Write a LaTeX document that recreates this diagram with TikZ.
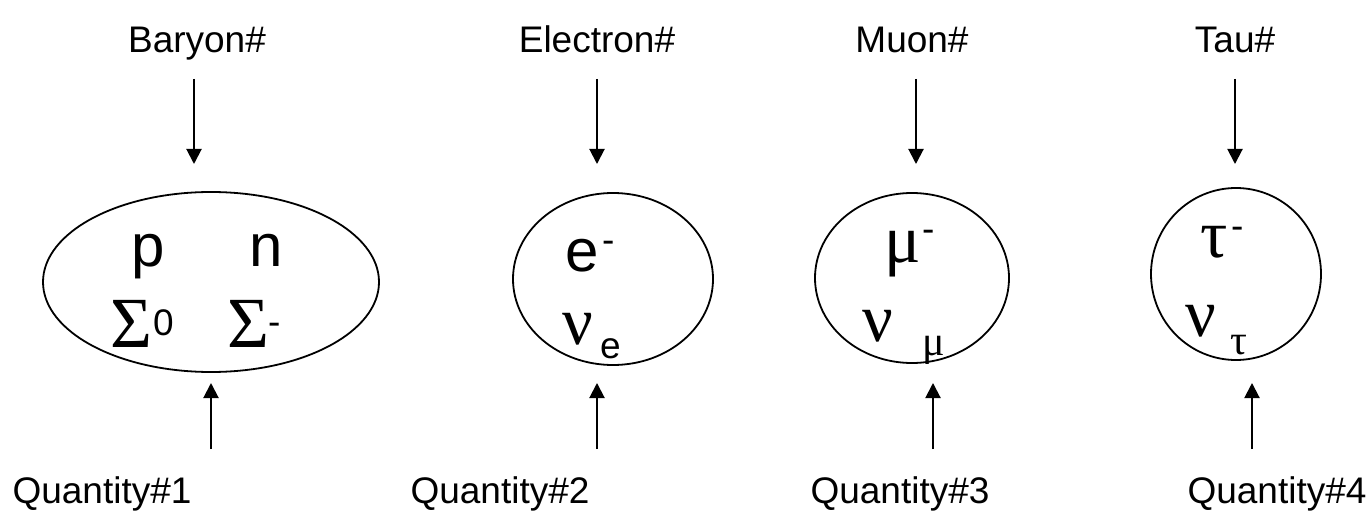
\documentclass[tikz,border=0pt]{standalone}
\usepackage{fontspec}
\setmainfont{Liberation Sans}
\newfontfamily\grk{Liberation Serif}
\usetikzlibrary{shapes.geometric,arrows.meta}
\begin{document}
\begin{tikzpicture}[x=1pt,y=-1pt,
  lbl/.style={font=\fontsize{37}{40}\selectfont, inner sep=0pt, anchor=base},
  big/.style={font=\fontsize{60}{64}\selectfont, inner sep=0pt, anchor=base},
  gk/.style={font=\grk\fontsize{68}{70}\selectfont, inner sep=0pt, anchor=base west},
  sig/.style={font=\grk\fontsize{72}{74}\selectfont, inner sep=0pt, anchor=base west},
  sup/.style={font=\fontsize{37}{40}\selectfont, inner sep=0pt, anchor=base west},
  gsub/.style={font=\grk\fontsize{42}{44}\selectfont, inner sep=0pt, anchor=base west},
  ell/.style={draw, ellipse, line width=1.8pt, inner sep=0pt},
  arr/.style={-{Triangle[length=15pt,width=15pt]}, line width=2pt}]
\useasboundingbox (0,0) rectangle (1371,513);

% ellipses
\node[ell, minimum width=336pt, minimum height=180pt] (e1) at (211,282) {};
\node[ell, minimum width=200pt, minimum height=172pt] (e2) at (613,279) {};
\node[ell, minimum width=194pt, minimum height=170pt] (e3) at (912,278) {};
\node[ell, minimum width=170pt, minimum height=172pt] (e4) at (1236,274) {};

% top labels
\node[lbl] (b) at (197,53) {Baryon\#};
\node[lbl] (el) at (597,53) {Electron\#};
\node[lbl] (mu) at (912,53) {Muon\#};
\node[lbl] (ta) at (1235,53) {Tau\#};

% bottom labels
\node[lbl] (q1) at (102,503) {Quantity\#1};
\node[lbl] (q2) at (500,503) {Quantity\#2};
\node[lbl] (q3) at (900,503) {Quantity\#3};
\node[lbl] (q4) at (1277,503) {Quantity\#4};

% arrow end points
\coordinate (t1s) at (194,79);  \coordinate (t1e) at (194,164);
\coordinate (t2s) at (597,79);  \coordinate (t2e) at (597,164);
\coordinate (t3s) at (916,79);  \coordinate (t3e) at (916,164);
\coordinate (t4s) at (1235,79); \coordinate (t4e) at (1235,164);
\coordinate (u1s) at (211,449); \coordinate (u1e) at (211,383);
\coordinate (u2s) at (597,449); \coordinate (u2e) at (597,383);
\coordinate (u3s) at (933,449); \coordinate (u3e) at (933,383);
\coordinate (u4s) at (1252,449); \coordinate (u4e) at (1252,383);
\foreach \i in {1,2,3,4}{
  \draw[arr] (t\i s) -- (t\i e);
  \draw[arr] (u\i s) -- (u\i e);
}

% contents of ellipse 1
\node[big] (p) at (148,266) {p};
\node[big] (n) at (266,266) {n};
\node[sig] (s0) at (110,347) {Σ};
\node[sup] (s0s) at (153,335) {0};
\node[sig] (sm) at (227,347) {Σ};
\node[sup] (sms) at (268,334) {-};

% ellipse 2
\node[big, anchor=base west] (e) at (565,272) {e};
\node[sup] (es) at (602,252) {-};
\node[gk] (nue) at (562,344) {ν};
\node[sup] (nues) at (600,358) {e};

% ellipse 3
\node[gk] (m) at (884,262) {μ};
\node[sup] (ms) at (922,242) {-};
\node[gk] (num) at (862,341) {ν};
\node[gsub] (nums) at (922,355) {μ};

% ellipse 4
\node[gk] (t) at (1200,258) {τ};
\node[sup] (ts) at (1231,239) {-};
\node[gk] (nut) at (1185,336) {ν};
\node[gsub] (nuts) at (1230,354) {τ};
\end{tikzpicture}
\end{document}
